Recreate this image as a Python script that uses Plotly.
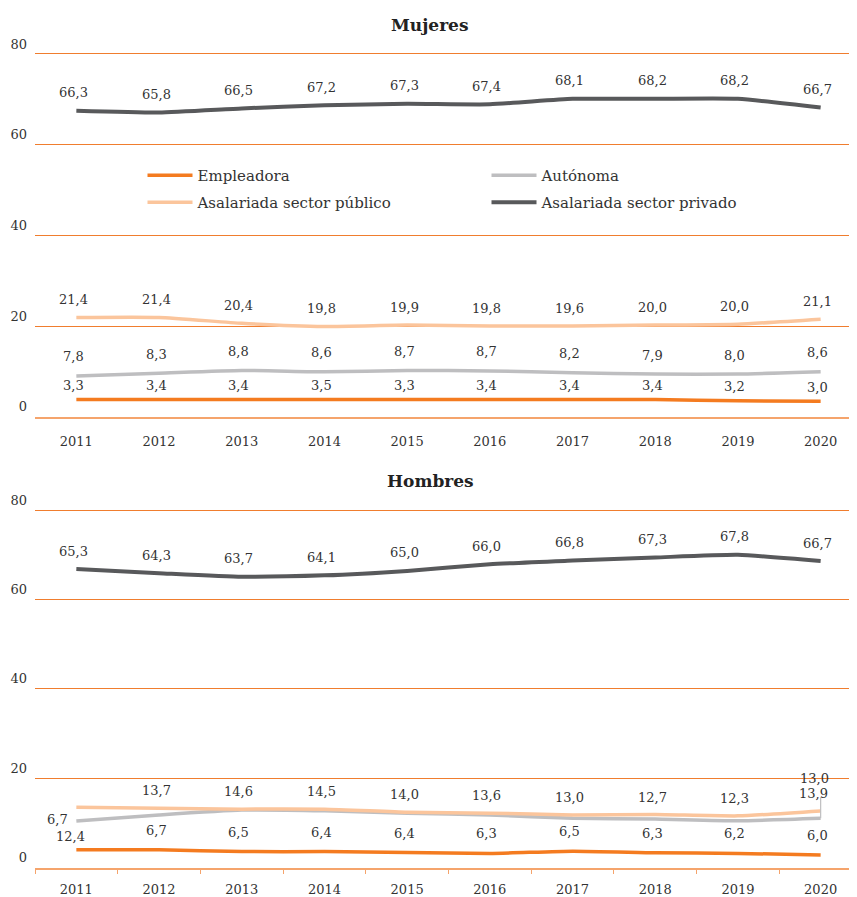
import plotly.graph_objects as go

# ---------------- data ----------------
years = ["2011", "2012", "2013", "2014", "2015", "2016", "2017", "2018", "2019", "2020"]
series_names = ["Empleadora", "Autónoma", "Asalariada sector público", "Asalariada sector privado"]

# line values (as drawn)
mujeres_empleadora = [3.8, 3.8, 3.8, 3.8, 3.8, 3.8, 3.8, 3.8, 3.5, 3.4]
mujeres_autonoma = [9.0, 9.6, 10.2, 9.9, 10.2, 10.1, 9.7, 9.4, 9.4, 9.9]
mujeres_publico = [21.9, 21.9, 20.6, 19.9, 20.2, 20.0, 20.0, 20.2, 20.4, 21.5]
mujeres_privado = [67.5, 67.1, 68.0, 68.7, 69.0, 68.9, 70.1, 70.1, 70.1, 68.2]

hombres_empleadora = [4.0, 4.0, 3.6, 3.6, 3.4, 3.2, 3.7, 3.35, 3.2, 2.85]
hombres_autonoma = [10.45, 11.8, 12.9, 12.75, 12.2, 11.8, 11.05, 10.9, 10.5, 11.05]
hombres_publico = [13.5, 13.3, 13.1, 13.1, 12.4, 12.2, 11.8, 11.9, 11.6, 12.7]
hombres_privado = [66.8, 65.9, 65.1, 65.4, 66.4, 67.9, 68.7, 69.4, 70.0, 68.6]

# data label texts (as printed)
mujeres_empleadora_lbl = ["3,3", "3,4", "3,4", "3,5", "3,3", "3,4", "3,4", "3,4", "3,2", "3,0"]
mujeres_autonoma_lbl = ["7,8", "8,3", "8,8", "8,6", "8,7", "8,7", "8,2", "7,9", "8,0", "8,6"]
mujeres_publico_lbl = ["21,4", "21,4", "20,4", "19,8", "19,9", "19,8", "19,6", "20,0", "20,0", "21,1"]
mujeres_privado_lbl = ["66,3", "65,8", "66,5", "67,2", "67,3", "67,4", "68,1", "68,2", "68,2", "66,7"]

hombres_empleadora_lbl = ["12,4", "6,7", "6,5", "6,4", "6,4", "6,3", "6,5", "6,3", "6,2", "6,0"]
hombres_autonoma_lbl = ["6,7", "", "", "", "", "", "", "", "", "13,9"]
hombres_publico_lbl = ["", "13,7", "14,6", "14,5", "14,0", "13,6", "13,0", "12,7", "12,3", "13,0"]
hombres_privado_lbl = ["65,3", "64,3", "63,7", "64,1", "65,0", "66,0", "66,8", "67,3", "67,8", "66,7"]

y_ticks = [0, 20, 40, 60, 80]
panel_titles = ["Mujeres", "Hombres"]

# ---------------- styling / geometry ----------------
OFF = 8                      # page body margin of the html page
W, H = 857 - OFF, 897 - OFF  # figure size so it fits the window
FONT = "DejaVu Serif"
TXT = "#333333"
GRID = "#F07D2E"
AXLINE = "#F5A46C"
colors = ["#F47B20", "#BEBEC0", "#FBC59C", "#58595B"]
widths = [3.5, 3.5, 3.5, 4]
legend_ids = ["legend", "legend", "legend2", "legend2"]
Y_TOP = 81  # headroom so the 80 gridline is fully drawn


def px_y(p):  # window pixel (from top) -> paper fraction
    return 1 - (p - OFF) / H


def px_x(p):  # window pixel (from left) -> paper fraction
    return (p - OFF) / W


# (window pixel of value 0, pixels per unit)
geo = [(416.7, 4.534), (867.7, 4.47)]

panels = [
    dict(vals=[mujeres_empleadora, mujeres_autonoma, mujeres_publico, mujeres_privado],
         lbls=[mujeres_empleadora_lbl, mujeres_autonoma_lbl, mujeres_publico_lbl, mujeres_privado_lbl],
         title_y=px_y(24.5), xa="x", ya="y", dy=[14, 19, 18, 18]),
    dict(vals=[hombres_empleadora, hombres_autonoma, hombres_publico, hombres_privado],
         lbls=[hombres_empleadora_lbl, hombres_autonoma_lbl, hombres_publico_lbl, hombres_privado_lbl],
         title_y=px_y(481), xa="x2", ya="y2", dy=[19.5, 19, 17.5, 18]),
]
for pan, (p0, ppu) in zip(panels, geo):
    pan["dom"] = [px_y(p0), px_y(p0 - Y_TOP * ppu)]

# special label placements (panel, series, year index) -> (xshift, yshift)
special = {
    (1, 0, 0): (-6, 13),
    (1, 1, 0): (-19, 1),
    (1, 1, 9): (-7, 25),
    (1, 2, 9): (-6, 32),
}

xidx = list(range(len(years)))
boundaries = [i - 0.5 for i in range(len(years) + 1)]

fig = go.Figure()
annotations = []
shapes = []
for p, pan in enumerate(panels):
    for s in range(4):
        fig.add_trace(go.Scatter(
            x=xidx, y=pan["vals"][s], name=series_names[s], mode="lines",
            line=dict(color=colors[s], width=widths[s], shape="spline", smoothing=0.5),
            xaxis=pan["xa"], yaxis=pan["ya"], showlegend=(p == 0), legend=legend_ids[s],
            hoverinfo="skip"))
        for i, (v, t) in enumerate(zip(pan["vals"][s], pan["lbls"][s])):
            if not t:
                continue
            xs, ys = special.get((p, s, i), (-3, pan["dy"][s]))
            annotations.append(dict(
                x=i, y=v, xref=pan["xa"], yref=pan["ya"], text=t, showarrow=False,
                xshift=xs, yshift=ys, yanchor="middle", xanchor="center",
                font=dict(family=FONT, size=13, color=TXT)))
    annotations.append(dict(
        x=px_x(430), y=pan["title_y"], xref="paper", yref="paper", showarrow=False,
        text="<b>%s</b>" % panel_titles[p], font=dict(family=FONT, size=17, color="#222222"),
        xanchor="center", yanchor="middle"))

# connector for the moved 2020 Autónoma label (Hombres)
shapes.append(dict(type="line", xref="x2", yref="y2", ysizemode="pixel",
                   yanchor=hombres_autonoma[9], x0=9, x1=9, y0=0, y1=21,
                   line=dict(color="#BEBEC0", width=1.2)))

x_dom = [px_x(35), 1]
x_range = [-0.5, -0.5 + (857 - 35) / 82.7]
common_x = dict(domain=x_dom, range=x_range, showgrid=False, automargin=False,
                tickmode="array", tickvals=xidx, ticktext=years, ticks="",
                tickfont=dict(family=FONT, size=13, color=TXT), showline=True,
                linecolor=AXLINE, linewidth=1.5, zeroline=False)
common_y = dict(range=[0, Y_TOP], tickvals=y_ticks, showgrid=True, gridcolor=GRID, gridwidth=1,
                zeroline=False, showline=False, ticks="", automargin=False,
                tickfont=dict(family=FONT, size=13, color=TXT), ticklabelshift=-10,
                ticklabelstandoff=7)
legend_common = dict(orientation="h", xanchor="left", yanchor="top",
                     font=dict(family=FONT, size=15, color=TXT), itemwidth=45,
                     entrywidth=284, entrywidthmode="pixels", bgcolor="rgba(0,0,0,0)",
                     traceorder="normal")

fig.update_layout(
    width=W, height=H, margin=dict(l=0, r=0, t=0, b=0, autoexpand=False),
    paper_bgcolor="white", plot_bgcolor="white",
    xaxis=dict(**common_x, anchor="y", ticklabelstandoff=12),
    yaxis=dict(**common_y, domain=panels[0]["dom"], anchor="x"),
    xaxis2=dict(**common_x, anchor="y2", ticklabelstandoff=9,
                minor=dict(tickmode="array", tickvals=boundaries, ticks="outside",
                           ticklen=5, tickwidth=1.2, tickcolor=AXLINE, showgrid=False)),
    yaxis2=dict(**common_y, domain=panels[1]["dom"], anchor="x2"),
    legend=dict(**legend_common, x=px_x(142.5), y=px_y(159)),
    legend2=dict(**legend_common, x=px_x(142.5), y=px_y(186)),
    annotations=annotations, shapes=shapes, showlegend=True,
)

fig.write_html("out.html")
